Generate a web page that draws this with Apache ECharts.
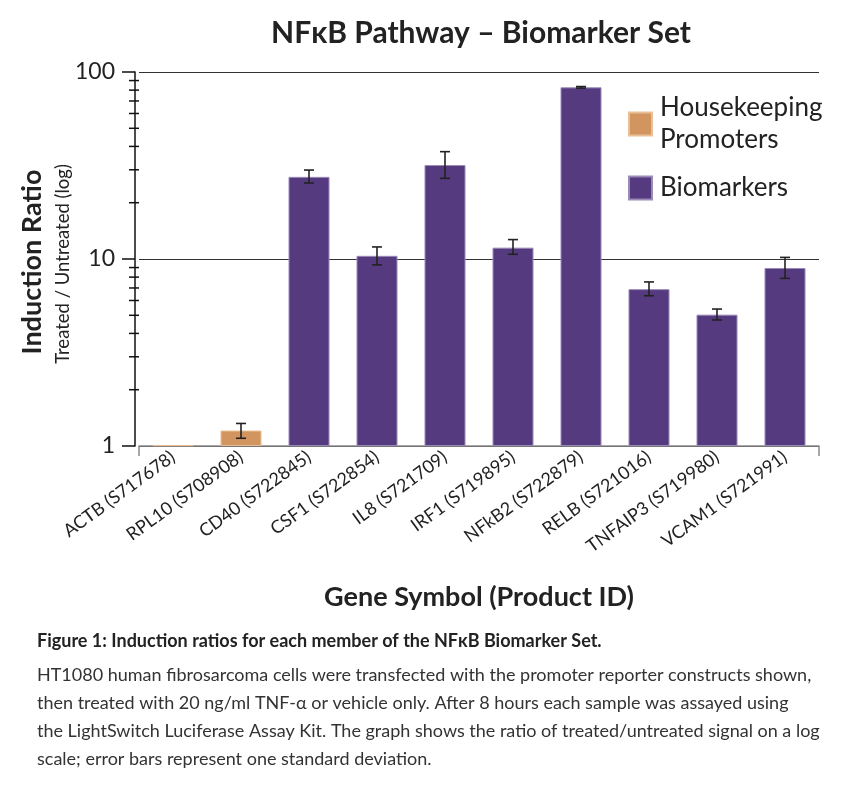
<!DOCTYPE html>
<html>
<head>
<meta charset="utf-8">
<script src="https://cdn.jsdelivr.net/npm/echarts@6/dist/echarts.min.js"></script>
<style>html,body{margin:0;padding:0;background:#fff}#c{width:850px;height:787px}</style>
</head>
<body>
<div id="c"></div>
<script>
const categories = ['ACTB (S717678)','RPL10 (S708908)','CD40 (S722845)','CSF1 (S722854)','IL8 (S721709)','IRF1 (S719895)','NFkB2 (S722879)','RELB (S721016)','TNFAIP3 (S719980)','VCAM1 (S721991)'];
const housekeeping = [1.01, 1.21, '-', '-', '-', '-', '-', '-', '-', '-'];
const biomarkers = ['-', '-', 27.5, 10.4, 31.8, 11.5, 82.8, 6.9, 5.04, 8.95];
const errLow = [null, 1.10, 25.5, 9.3, 27.0, 10.6, 82.0, 6.36, 4.72, 7.88];
const errHigh = [null, 1.32, 29.9, 11.6, 37.5, 12.7, 83.6, 7.54, 5.40, 10.2];
const yTickLabels = {1:'1', 10:'10', 100:'100'};
const minorTickVals = [2,3,4,5,6,7,8,9,20,30,40,50,60,70,80,90];

const FONT = 'Lato';
const chart = echarts.init(document.getElementById('c'), null, {renderer:'canvas'});

const errData = [];
categories.forEach((c,i)=>{ if (errLow[i] != null) errData.push([i, errLow[i], errHigh[i]]); });

const option = {
  animation: false,
  backgroundColor: '#fff',
  textStyle: {fontFamily: FONT},
  title: {
    text: 'NFκB Pathway – Biomarker Set',
    left: 476, top: 13, textAlign: 'center',
    textStyle: {fontFamily: FONT, fontWeight: 'bold', fontSize: 30, color: '#222'}
  },
  legend: {
    orient: 'vertical', left: 628, top: 92, padding: 0, itemWidth: 23, itemHeight: 23, itemGap: 16,
    icon: 'rect',
    textStyle: {fontFamily: FONT, fontSize: 26, color: '#222', lineHeight: 32, padding: [0,0,0,3]},
    data: ['Housekeeping\nPromoters', 'Biomarkers'],
    selectedMode: false
  },
  grid: {left: 139, top: 72, width: 680, height: 374, containLabel: false},
  xAxis: {
    type: 'category', data: categories,
    axisLine: {show: true, lineStyle: {color: '#8a8a8a', width: 1.5}},
    axisTick: {show: true, length: 10, lineStyle: {color: '#8a8a8a', width: 1.5},
      interval: function(i){ return i === 2 || i === 10; }},
    axisLabel: {rotate: 36, fontFamily: FONT, fontSize: 18, color: '#222', margin: 9, interval: 0},
    name: 'Gene Symbol (Product ID)', nameLocation: 'middle', nameGap: 138,
    nameTextStyle: {fontFamily: FONT, fontWeight: 'bold', fontSize: 27, color: '#222'}
  },
  yAxis: {
    type: 'log', logBase: 10, min: 1, max: 100, offset: 4,
    axisLine: {show: true, lineStyle: {color: '#111', width: 1.5}},
    axisTick: {show: true, length: 13, lineStyle: {color: '#111', width: 1.5}},
    axisLabel: {fontFamily: FONT, fontSize: 23, color: '#222', margin: 20,
      formatter: v => yTickLabels[Math.round(v)] || ''},
    splitLine: {show: true, lineStyle: {color: '#333', width: 1.2}},
    minorTick: {show: false}
  },
  graphic: [
    {type: 'text', x: 32, y: 262, rotation: Math.PI/2, style: {text: 'Induction Ratio', font: 'bold 27px ' + FONT, fill: '#222', textAlign: 'center', textVerticalAlign: 'middle'}},
    {type: 'text', x: 63, y: 264, rotation: Math.PI/2, style: {text: 'Treated / Untreated (log)', font: '18.5px ' + FONT, fill: '#222', textAlign: 'center', textVerticalAlign: 'middle'}},
    {type: 'text', x: 37, y: 641, style: {text: 'Figure 1: Induction ratios for each member of the NFκB Biomarker Set.', font: 'bold 18px ' + FONT, fill: '#222', textVerticalAlign: 'middle'}},
    {type: 'text', x: 37, y: 675, style: {text: 'HT1080 human fibrosarcoma cells were transfected with the promoter reporter constructs shown,', font: '18px ' + FONT, fill: '#333', textVerticalAlign: 'middle'}},
    {type: 'text', x: 37, y: 703, style: {text: 'then treated with 20 ng/ml TNF-α or vehicle only. After 8 hours each sample was assayed using', font: '18px ' + FONT, fill: '#333', textVerticalAlign: 'middle'}},
    {type: 'text', x: 37, y: 731, style: {text: 'the LightSwitch Luciferase Assay Kit. The graph shows the ratio of treated/untreated signal on a log', font: '18px ' + FONT, fill: '#333', textVerticalAlign: 'middle'}},
    {type: 'text', x: 37, y: 759, style: {text: 'scale; error bars represent one standard deviation.', font: '18px ' + FONT, fill: '#333', textVerticalAlign: 'middle'}}
  ],
  series: [
    {name: 'Housekeeping\nPromoters', type: 'bar', data: housekeeping, barWidth: 41, barGap: '-100%',
      itemStyle: {color: '#d2955f', borderColor: '#e9bf96', borderWidth: 1}},
    {name: 'Biomarkers', type: 'bar', data: biomarkers, barWidth: 41, barGap: '-100%',
      itemStyle: {color: '#553a80', borderColor: '#9a8ab6', borderWidth: 1}},
    {type: 'custom', name: 'err', data: errData, encode: {x: 0, y: [1, 2]}, z: 5, silent: true,
      renderItem: function(params, api){
        const x = api.value(0);
        const lo = api.coord([x, api.value(1)]);
        const hi = api.coord([x, api.value(2)]);
        const w = 5;
        const st = {stroke: '#222', lineWidth: 1.6};
        return {type: 'group', children: [
          {type: 'line', shape: {x1: lo[0], y1: lo[1], x2: hi[0], y2: hi[1]}, style: st},
          {type: 'line', shape: {x1: lo[0]-w, y1: lo[1], x2: lo[0]+w, y2: lo[1]}, style: st},
          {type: 'line', shape: {x1: hi[0]-w, y1: hi[1], x2: hi[0]+w, y2: hi[1]}, style: st}
        ]};
      }},
    {type: 'custom', name: 'minor', data: minorTickVals.map(v => [0, v]), encode: {x: 0, y: 1}, silent: true, clip: false, z: 6,
      renderItem: function(params, api){
        const y = api.coord([0, api.value(1)])[1];
        const ax = params.coordSys.x - 4;
        return {type: 'line', shape: {x1: ax - 6, y1: y, x2: ax + 4, y2: y}, style: {stroke: '#111', lineWidth: 1.5}};
      }}
  ]
};
chart.setOption(option);
</script>
</body>
</html>
